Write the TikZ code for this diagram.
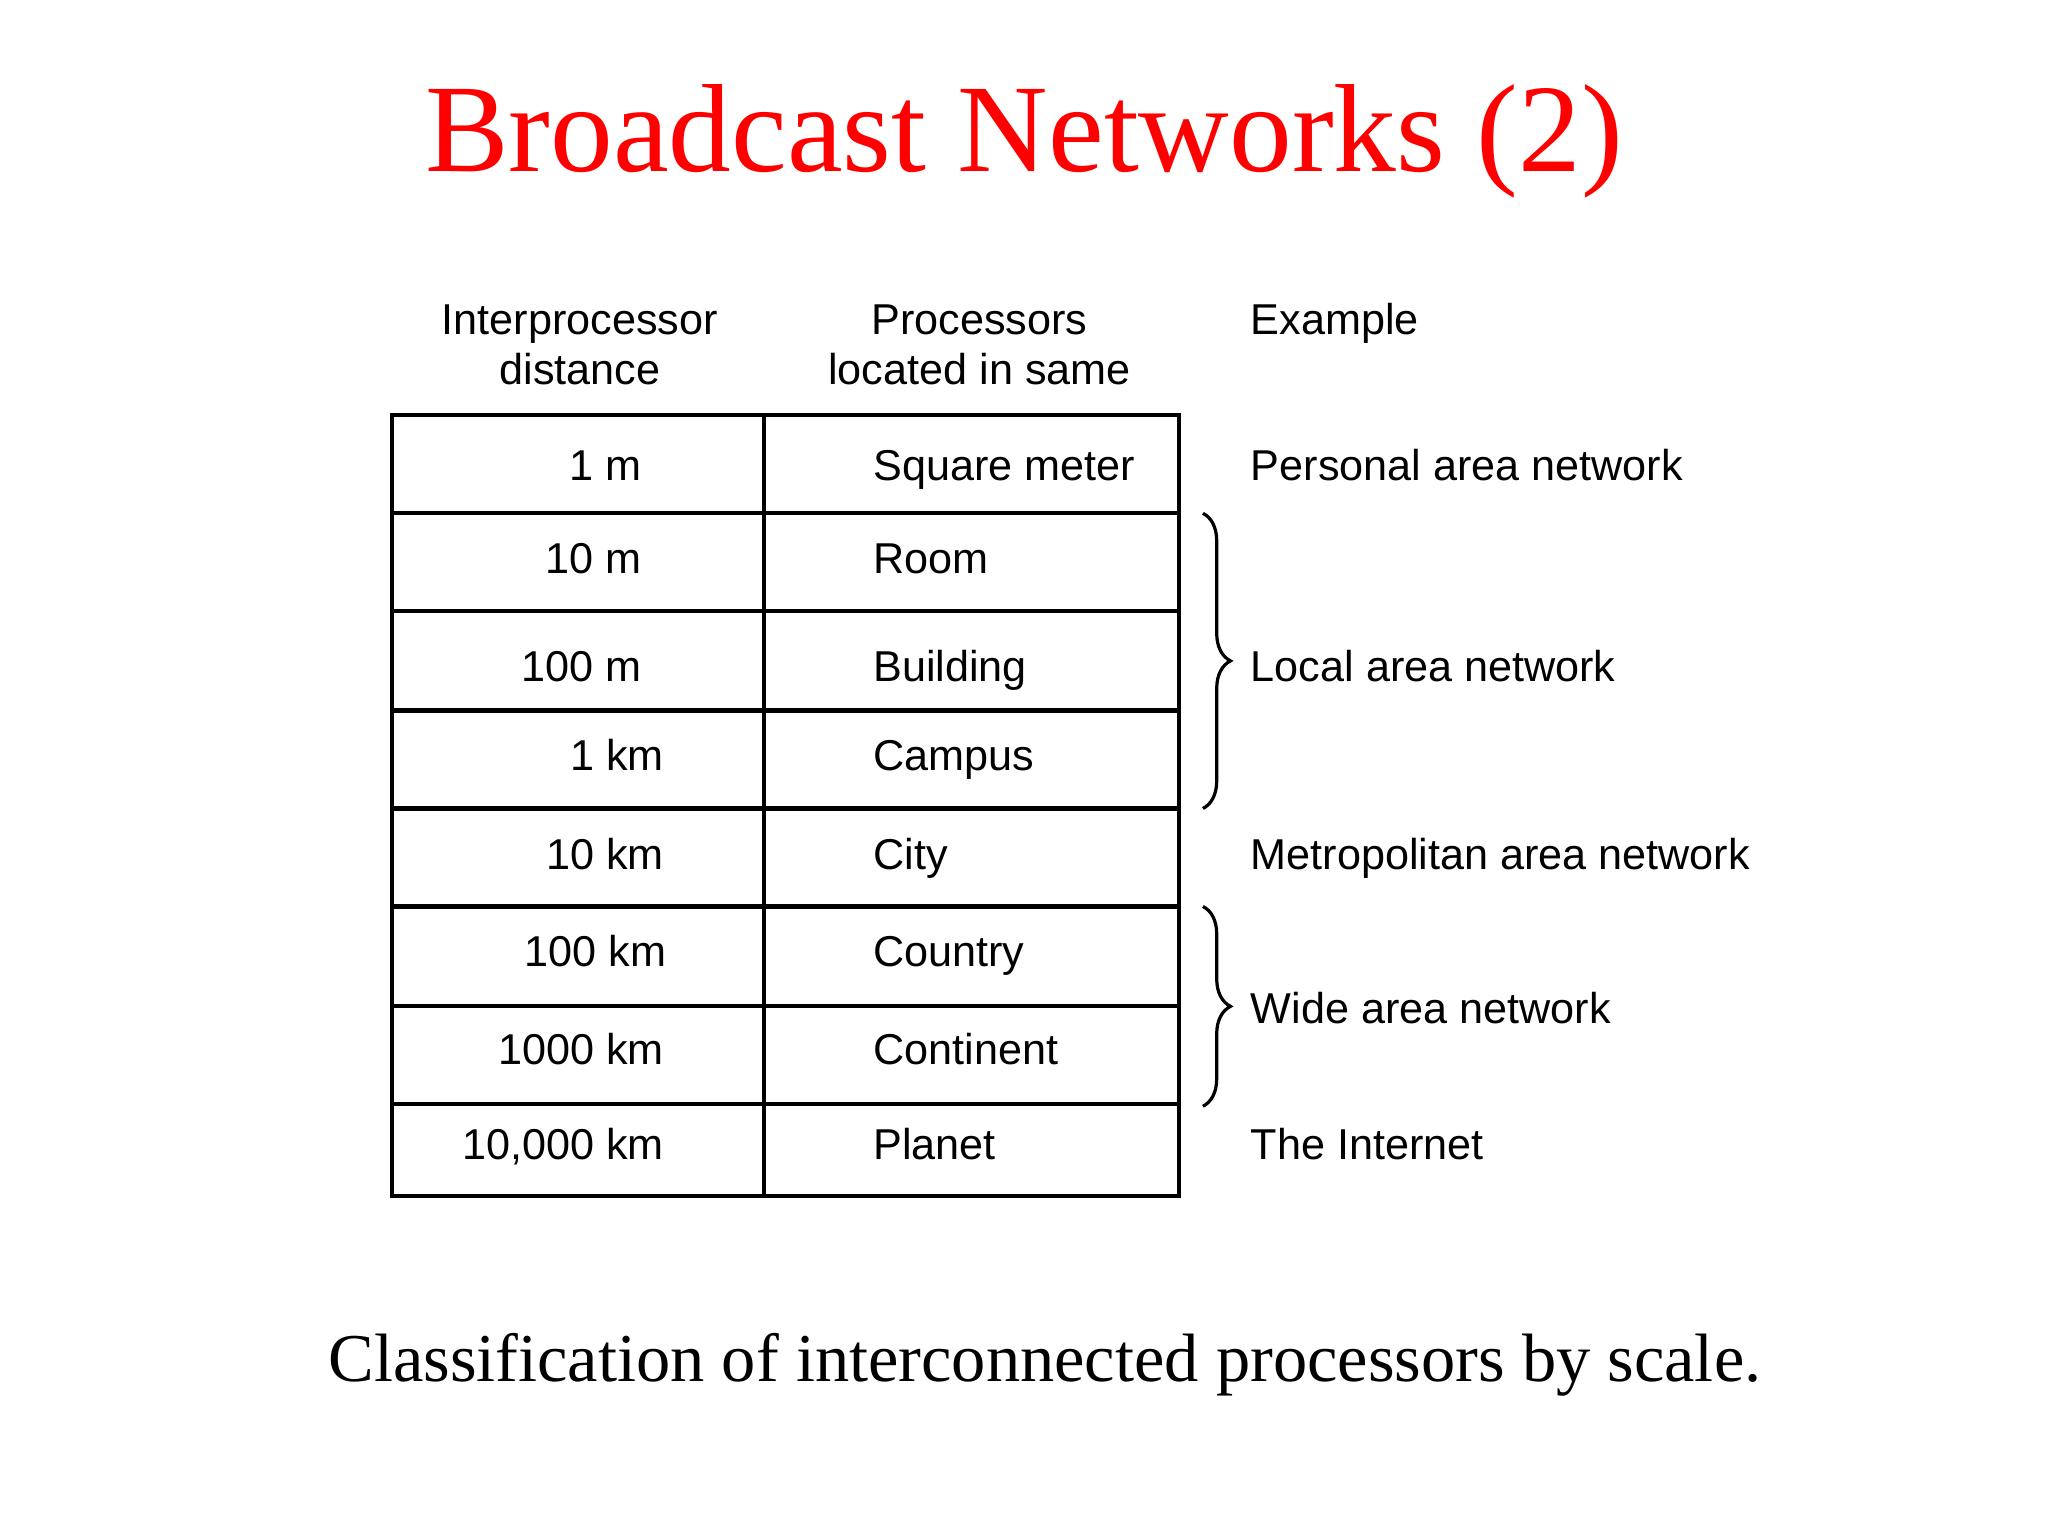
\documentclass[tikz,border=0pt]{standalone}
\usepackage{fontspec}
\setmainfont{Liberation Serif}
\newfontfamily\hsans{Liberation Sans}
\usetikzlibrary{decorations.pathreplacing}
\begin{document}
\begin{tikzpicture}[x=0.01cm,y=-0.01cm,
  cell/.style={font=\hsans\fontsize{9.4}{11}\selectfont,inner sep=0pt,text height=7pt,text depth=2pt},
  hcell/.style={font=\hsans\fontsize{9.4}{11}\selectfont,inner sep=0pt},
  grid/.style={line width=0.9pt},
  br/.style={decorate,decoration={brace,amplitude=6pt},line width=0.7pt}]
\useasboundingbox (0,0) rectangle (1568,1176);
\node[text=red,font=\fontsize{27.3}{30}\selectfont] (title) at (784,108) {Broadcast Networks (2)};
\node[hcell,align=center] (h1) at (444,264) {Interprocessor\\distance};
\node[hcell,align=center] (h2) at (750,264) {Processors\\located in same};
\node[cell,anchor=west] (h3) at (957,247) {Example};
\draw[grid] (300,318) rectangle (903,916);
\draw[grid] (585,318) -- (585,916);
\foreach \y in {393,468,544,619,694,770,845} \draw[grid] (300,\y) -- (903,\y);
\foreach \t/\x/\y/\n/\m in {1 m/492/359/a1/Square meter,10 m/492/430/a2/Room,100 m/492/513/a3/Building,1 km/509/581/a4/Campus,10 km/509/657/a5/City,100 km/511/731/a6/Country,1000 km/509/806/a7/Continent,{10,000 km}/509/879/a8/Planet}{
  \node[cell,anchor=east] (\n) at (\x,\y) {\t};
  \node[cell,anchor=west] (b\n) at (668,\y) {\m};
}
\node[cell,anchor=west] (e1) at (957,359) {Personal area network};
\node[cell,anchor=west] (e2) at (957,513) {Local area network};
\node[cell,anchor=west] (e3) at (957,657) {Metropolitan area network};
\node[cell,anchor=west] (e4) at (957,775) {Wide area network};
\node[cell,anchor=west] (e5) at (957,879) {The Internet};
\draw[br] (921,393) -- (921,619);
\draw[br] (921,694) -- (921,847);
\node[font=\fontsize{14.9}{17}\selectfont] (cap) at (800,1045) {Classification of interconnected processors by scale.};
\end{tikzpicture}
\end{document}
